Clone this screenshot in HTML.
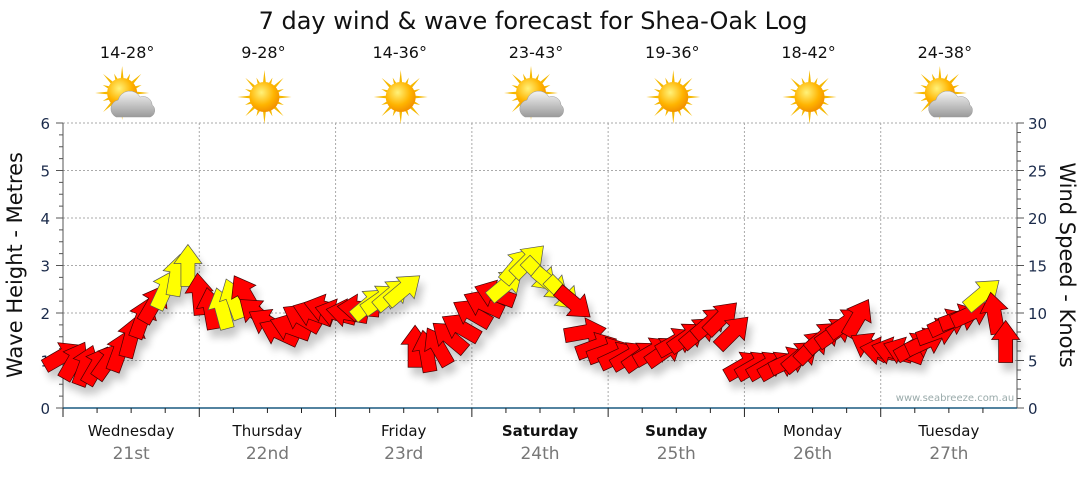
<!DOCTYPE html>
<html><head><meta charset="utf-8"><style>
body{margin:0;background:#fff;width:1080px;height:475px;overflow:hidden;font-family:"Liberation Sans","DejaVu Sans",sans-serif}
svg text{font-family:"DejaVu Sans","Liberation Sans",sans-serif}
</style></head><body>
<svg id="c" width="1080" height="475" viewBox="0 0 1080 475">
<defs>
<filter id="sh" x="-50%" y="-50%" width="200%" height="200%"><feGaussianBlur in="SourceAlpha" stdDeviation="4"/><feOffset dx="4" dy="8"/><feComponentTransfer><feFuncA type="linear" slope="0.22"/></feComponentTransfer><feMerge><feMergeNode/><feMergeNode in="SourceGraphic"/></feMerge></filter>
<radialGradient id="sun" cx="0.4" cy="0.35" r="0.7"><stop offset="0" stop-color="#fff27a"/><stop offset="0.6" stop-color="#ffb400"/><stop offset="1" stop-color="#f08a00"/></radialGradient>
<linearGradient id="cloud" x1="0" y1="0" x2="0" y2="1"><stop offset="0" stop-color="#f4f4f4"/><stop offset="1" stop-color="#9a9a9a"/></linearGradient>
</defs>
<text x="533" y="29" font-size="24" text-anchor="middle" fill="#111">7 day wind &amp; wave forecast for Shea-Oak Log</text>
<g id="grid"></g><g id="axes"></g><g id="icons"></g>
<g id="arrows" filter="url(#sh)"></g>
<text x="955" y="401" font-size="10" text-anchor="middle" fill="#9aa">www.seabreeze.com.au</text>
<text transform="translate(22,265) rotate(-90)" font-size="21" text-anchor="middle" fill="#111">Wave Height - Metres</text>
<text transform="translate(1060,265) rotate(90)" font-size="21" text-anchor="middle" fill="#111">Wind Speed - Knots</text>
</svg>
<script>
const days = ["Wednesday","Thursday","Friday","Saturday","Sunday","Monday","Tuesday"];
const dates = ["21st","22nd","23rd","24th","25th","26th","27th"];
const boldDays = [false,false,false,true,true,false,false];
const temps = ["14-28°","9-28°","14-36°","23-43°","19-36°","18-42°","24-38°"];
const cloudy = [true,false,false,true,false,false,true];
const waveTicks = [0,1,2,3,4,5,6];
const windTicks = [0,5,10,15,20,25,30];
// wind speed (knots) every 2 hours
const windSpeed = [
5.5,5,4.5,4.5,5,6,7.5,9.5,11,12.5,14,15,
12,10.5,10.5,11.5,12,10,9,8,8.5,9.5,10,10.5,
10,10,10.5,11,11.5,12,12.5,6.5,6,6.5,7.5,8.5,
10,11,12,13,15,15.5,14,13,12,11,8,6.5,
6,5.5,5.5,5.5,6,6,7,7.5,8,9,9.5,8,
4.5,4.5,4.5,4.5,5,5.5,6.5,7.5,8,9,9.5,6.5,
6,6,6,6.5,7,8,9,9.5,10,12,10,7];
// arrow pointing angle (deg, 0=right, -90=up)
const windDir = [
-30,-60,-70,-60,-55,-70,-75,-70,-60,-65,-80,-90,
-95,-100,-105,-110,-120,-140,-150,-155,-160,-150,-160,-165,
-165,-170,-175,-40,-35,-40,-40,-90,-100,-120,-140,-150,
-150,-155,-160,-40,-50,-45,45,40,45,40,-10,-20,
-20,-25,-30,-35,-30,-35,-30,-35,-40,-40,-45,-45,
-30,-30,-30,-30,-25,-40,-45,-40,-35,-35,-60,-150,
-170,-165,-160,-30,-25,-20,-25,-20,-25,-40,-100,-90];
const windYellow = [
0,0,0,0,0,0,0,0,0,1,1,1,
0,0,1,1,0,0,0,0,0,0,0,0,
0,0,0,1,1,1,1,0,0,0,0,0,
0,0,0,1,1,1,1,1,1,0,0,0,
0,0,0,0,0,0,0,0,0,0,0,0,
0,0,0,0,0,0,0,0,0,0,0,0,
0,0,0,0,0,0,0,0,0,1,0,0];

const NS="http://www.w3.org/2000/svg";
const X0=63,X1=1017,Y0=408,Y1=123,DW=(X1-X0)/7;
const xOfHour=h=>X0+h/24*DW;
const yWave=m=>Y0-(m/6)*(Y0-Y1);
const yWind=k=>Y0-(k/30)*(Y0-Y1);
function mk(tag,attrs,parent){const e=document.createElementNS(NS,tag);for(const k in attrs)e.setAttribute(k,attrs[k]);parent.appendChild(e);return e;}
const grid=document.getElementById('grid'),axes=document.getElementById('axes'),icons=document.getElementById('icons'),arrows=document.getElementById('arrows');
waveTicks.forEach(t=>{ if(t>0){const l=mk('line',{x1:X0,x2:X1,y1:yWave(t),y2:yWave(t),stroke:'#aaa','stroke-dasharray':'2,2','stroke-width':1},grid);

}
const tx=mk('text',{x:50,y:yWave(t)+6,'font-size':15,'text-anchor':'end',fill:'#1a2a4a'},axes);tx.textContent=t;

});
for(let v=0;v<=6;v+=0.25){const y=yWave(v);mk('line',{x1:X0-(v%1?4:7),x2:X0,y1:y,y2:y,stroke:'#555'},axes);}
windTicks.forEach(t=>{const tx=mk('text',{x:1028,y:yWind(t)+6,'font-size':15,fill:'#1a2a4a'},axes);tx.textContent=t;

});
for(let v=0;v<=30;v++){const y=yWind(v);mk('line',{x1:X1,x2:X1+(v%5?4:7),y1:y,y2:y,stroke:'#555'},axes);}
mk('line',{x1:X0,x2:X0,y1:Y1,y2:Y0,stroke:'#555'},axes);
mk('line',{x1:X1,x2:X1,y1:Y1,y2:Y0,stroke:'#555'},axes);
mk('line',{x1:X0,x2:X1,y1:Y0,y2:Y0,stroke:'#1a5a80','stroke-width':1.5},axes);
for(let d=0;d<7;d++){
 if(d>0){const l=mk('line',{x1:X0+d*DW,x2:X0+d*DW,y1:Y1,y2:Y0,stroke:'#aaa','stroke-dasharray':'2,2'},grid);
 
 }
 for(let q=0;q<4;q++){const x=xOfHour(d*24+q*6);mk('line',{x1:x,x2:x,y1:Y0,y2:Y0+(q?5:9),stroke:'#222'},axes);}
 const cx=X0+(d+0.5)*DW;
 const dn=mk('text',{x:cx,y:436,'font-size':15,'text-anchor':'middle',fill:'#111','font-weight':boldDays[d]?'bold':'normal'},axes);dn.textContent=days[d];
 
 
 const dt=mk('text',{x:cx,y:459,'font-size':17,'text-anchor':'middle',fill:'#777'},axes);dt.textContent=dates[d];
 
 
 const tt=mk('text',{x:cx-4,y:58,'font-size':16,'text-anchor':'middle',fill:'#111'},icons);tt.textContent=temps[d];
 
 
 const g=mk('g',{transform:`translate(${cx-3},97)`},icons);
 
 
 const sx=cloudy[d]?-6:0,sy=cloudy[d]?-4:0;
 for(let r=0;r<16;r++){const a=r*Math.PI/8,L=r%2?21:27;const p=`${sx+Math.cos(a-0.12)*13},${sy+Math.sin(a-0.12)*13} ${sx+Math.cos(a)*L},${sy+Math.sin(a)*L} ${sx+Math.cos(a+0.12)*13},${sy+Math.sin(a+0.12)*13}`;mk('polygon',{points:p,fill:'#f5b800'},g);}
 mk('circle',{cx:sx,cy:sy,r:15,fill:'url(#sun)'},g);
 if(cloudy[d]){mk('path',{d:'M-12,20 a9,9 0 0 1 2,-17 a12,12 0 0 1 22,-3 a9,9 0 0 1 12,8 a7,7 0 0 1 -2,12 z',fill:'url(#cloud)',stroke:'#999','stroke-width':0.5},g);}
}
const shape="-21,-7 2,-7 2,-14 21,0 2,14 2,7 -21,7";
windSpeed.forEach((k,i)=>{
 const x=xOfHour(i*2),y=yWind(k);
 const a=mk('polygon',{points:shape,transform:`translate(${x},${y}) rotate(${windDir[i]})`,fill:windYellow[i]?'#ffff00':'#ff0000',stroke:windYellow[i]?'#555':'#400','stroke-width':0.7},arrows);
 
 
});
</script>
</body></html>
